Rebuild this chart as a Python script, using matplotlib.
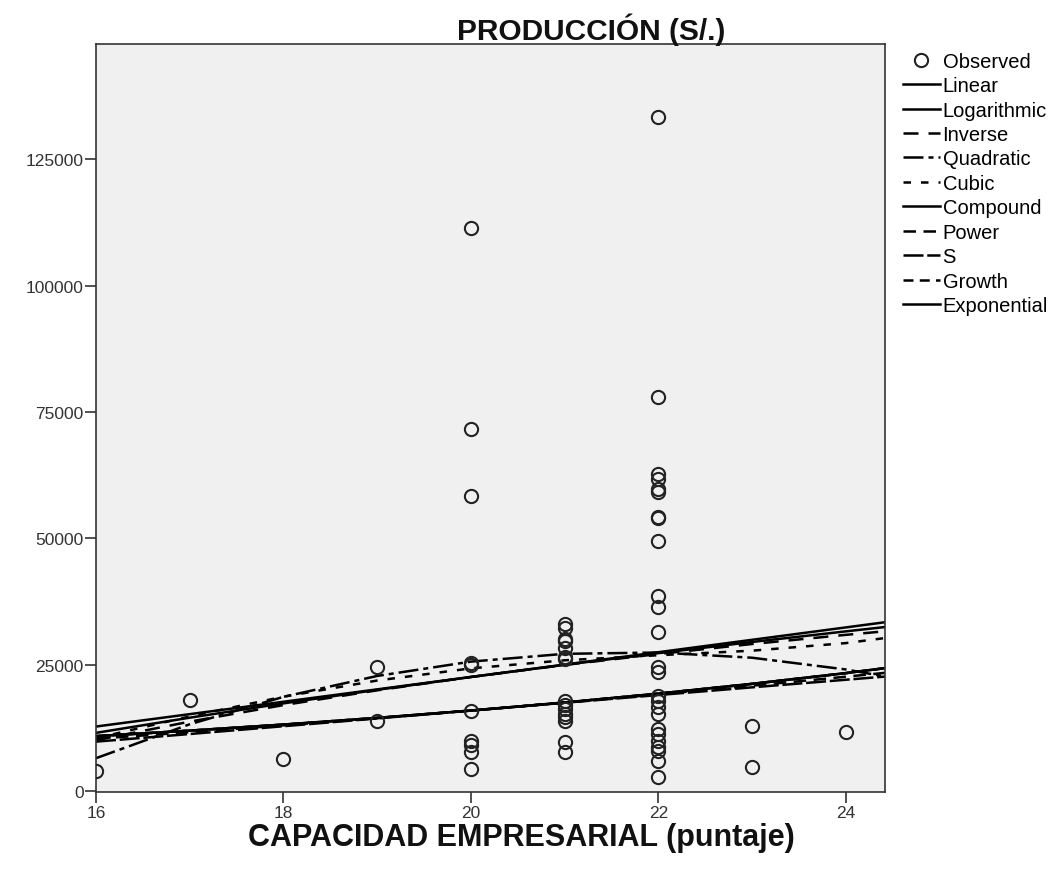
import matplotlib
matplotlib.use("Agg")
import matplotlib.pyplot as plt
import numpy as np

plt.rcParams['font.family'] = ['Liberation Sans', 'DejaVu Sans']

# observed points (capacidad empresarial, produccion)
obs_x = [16, 17, 18, 19, 19,
         20, 20, 20, 20, 20, 20, 20, 20, 20, 20,
         21, 21, 21, 21, 21, 21, 21, 21, 21, 21, 21, 21, 21, 21, 21,
         22, 22, 22, 22, 22, 22, 22, 22, 22, 22, 22, 22, 22, 22, 22,
         22, 22, 22, 22, 22, 22, 22, 22, 22, 22,
         23, 23, 24]
obs_y = [3950, 18000, 6400, 24500, 13900,
         111350, 71600, 58350, 24900, 25300, 15800, 9900, 9100, 7700, 4350,
         33030, 32240, 30060, 29670, 28280, 26500, 26100, 17800, 17000, 16200,
         15230, 14640, 13850, 9700, 7700,
         133300, 77900, 62700, 61700, 59700, 59100, 54000, 54200, 49450, 38570,
         36400, 31450, 24500, 23500, 18800, 17800, 16600, 15200, 12260, 11270,
         9900, 8700, 7900, 5900, 2770,
         12860, 4810, 11670]

# fitted curves
fit_x = [16, 17, 18, 19, 20, 21, 22, 23, 24, 24.42]
linear = [12800, 15250, 17700, 20150, 22600, 25050, 27500, 29950, 32400, 33430]
logarithmic = [11550, 14550, 17380, 20060, 22600, 25010, 27310, 29520, 31620, 32480]
inverse = [10100, 13770, 17040, 19960, 22600, 24980, 27140, 29120, 30930, 31640]
quadratic = [6540, 13250, 18670, 22800, 25640, 27180, 27440, 26410, 24090, 22700]
cubic = [10500, 14800, 18700, 21900, 24300, 25900, 26900, 27800, 29300, 30300]
compound = [10900, 11990, 13190, 14510, 15960, 17550, 19310, 21240, 23360, 24350]
power = [10390, 11670, 13030, 14450, 15950, 17520, 19160, 20870, 22650, 23420]
s_curve = [9810, 11320, 12860, 14400, 15950, 17500, 19030, 20550, 22050, 22680]
growth = compound
exponential = compound

fig = plt.figure(figsize=(10.54, 8.78), dpi=100)
ax = fig.add_axes([0.0911, 0.0968, 0.7486, 0.852])
ax.set_facecolor('#f0f0f0')

obs, = ax.plot(obs_x, obs_y, 'o', mfc='none', mec='#222222', mew=1.5, ms=9.5,
               label='Observed', zorder=3)

lw = 1.8
curves = [
    ('Linear', linear, '-'),
    ('Logarithmic', logarithmic, '-'),
    ('Inverse', inverse, (0, (6, 4))),
    ('Quadratic', quadratic, (0, (8, 2, 2, 2))),
    ('Cubic', cubic, (0, (3, 4))),
    ('Compound', compound, '-'),
    ('Power', power, (0, (5, 3))),
    ('S', s_curve, (0, (8, 1.5))),
    ('Growth', growth, (0, (4, 2.5))),
    ('Exponential', exponential, '-'),
]
handles = [obs]
for name, vals, ls in curves:
    h, = ax.plot(fit_x, vals, color='black', lw=lw, linestyle=ls, label=name)
    handles.append(h)

ax.set_xlim(16, 24.42)
ax.set_ylim(-150, 147800)
ax.set_xticks([16, 18, 20, 22, 24])
ax.set_yticks([0, 25000, 50000, 75000, 100000, 125000])
ax.tick_params(direction='out', length=8, width=1.2, labelsize=12.5, pad=1,
               labelcolor='#333333', colors='#333333')
for sp in ax.spines.values():
    sp.set_linewidth(1.2)
    sp.set_color('#333333')

fig.text(0.561, 0.966, 'PRODUCCIÓN (S/.)', ha='center', va='center',
         fontsize=21.5, fontweight='bold', color='#111111')
fig.text(0.495, 0.046, 'CAPACIDAD EMPRESARIAL (puntaje)', ha='center',
         va='center', fontsize=22, fontweight='bold', color='#111111')

fig.legend(handles=handles, loc='upper left', bbox_to_anchor=(0.857, 0.94),
           frameon=False, fontsize=14.5, handlelength=1.8, handletextpad=0.15,
           labelspacing=0.27, borderaxespad=0, borderpad=0)

fig.savefig('out.png', dpi=100)
